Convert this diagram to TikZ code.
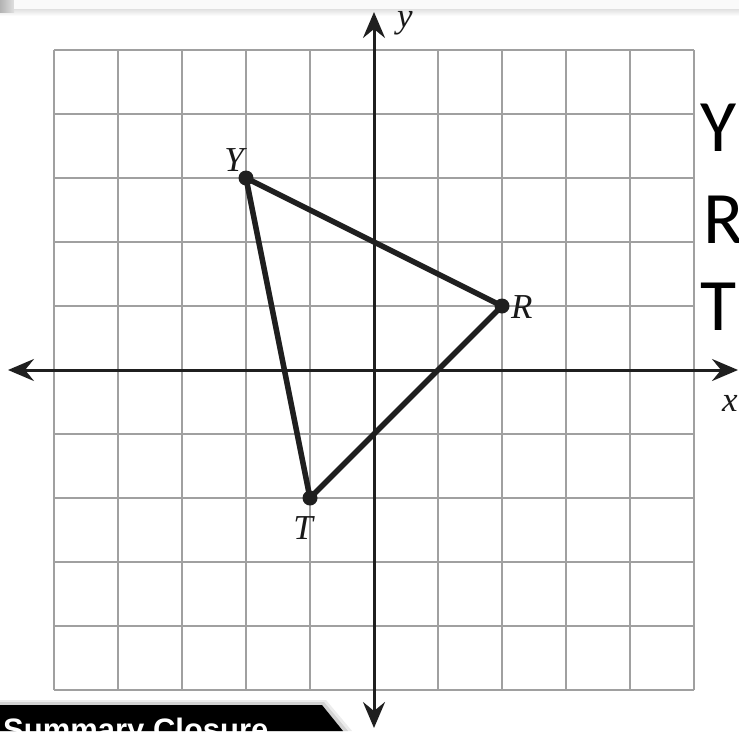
\documentclass[tikz,border=0pt]{standalone}
\usepackage{fontspec}
\setmainfont{Liberation Serif}
\newfontfamily\bigsans{Carlito}
\newfontfamily\tabsans{Liberation Sans}
\usetikzlibrary{arrows.meta}
\definecolor{gridgray}{HTML}{A0A0A0}
\definecolor{barfill}{HTML}{FAFAFA}
\tikzset{
  gridline/.style={draw=gridgray, line width=1.6pt},
  axisline/.style={draw=black!88, line width=3pt, {Stealth[length=26pt,width=22pt,inset=9pt]}-{Stealth[length=26pt,width=22pt,inset=9pt]}},
  edge/.style={draw=black!88, line width=5.5pt, line cap=round, line join=round},
  dot/.style={circle, fill=black!88, inner sep=0pt, minimum size=15pt},
  ptlabel/.style={font=\fontsize{35}{38}\selectfont\itshape, inner sep=0pt, text=black!90},
  biglet/.style={font=\bigsans\fontsize{74}{80}\selectfont, anchor=base west, inner sep=0pt},
}
\begin{document}
\begin{tikzpicture}[x=1pt, y=-1pt]
\useasboundingbox (0,0) rectangle (739,731);
\fill[white] (0,0) rectangle (739,731);
% top bar with shadow
\shade[top color=gray!55, bottom color=white] (0,0) rectangle (739,16);
\shade[left color=gray!60, right color=gray!25] (0,0) rectangle (14,12);
\fill[barfill] (14,0) rectangle (739,9);
% grid
\foreach \i in {0,...,10} {
  \draw[gridline] (54+64*\i,50) -- (54+64*\i,690);
  \draw[gridline] (54,50+64*\i) -- (694,50+64*\i);
}
% axes
\coordinate (xl) at (8,370);
\coordinate (xr) at (738,370);
\coordinate (yt) at (374,12);
\coordinate (yb) at (374,728);
\draw[axisline] (xl) -- (xr);
\draw[axisline] (yb) -- (yt);
\node[ptlabel] (xlab) at (730,403) {x};
\node[ptlabel] (ylab) at (405,23) {y};
% triangle
\node[dot] (Y) at (246,178) {};
\node[dot] (R) at (502,306) {};
\node[dot] (T) at (310,498) {};
\draw[edge] (Y.center) -- (R.center) -- (T.center) -- cycle;
\node[ptlabel] (Ylab) at (234,160) {Y};
\node[ptlabel, anchor=west] (Rlab) at (511,307) {R};
\node[ptlabel] (Tlab) at (303,528) {T};
% right letters
\node[biglet] (bY) at (700,151) {Y};
\node[biglet] (bR) at (703,243) {R};
\node[biglet] (bT) at (700,330) {T};
% summary closure tab with shadow
\fill[gray!15] (0,700) -- (326,700) -- (352,731) -- (0,731) -- cycle;
\fill[gray!35] (0,702) -- (324,702) -- (348,731) -- (0,731) -- cycle;
\fill[black] (0,705) -- (322,705) -- (343,731) -- (0,731) -- cycle;
\node[font=\tabsans\bfseries\fontsize{31}{34}\selectfont, text=white, anchor=base west, inner sep=0pt] (tab) at (3,740) {Summary Closure};
\end{tikzpicture}
\end{document}
